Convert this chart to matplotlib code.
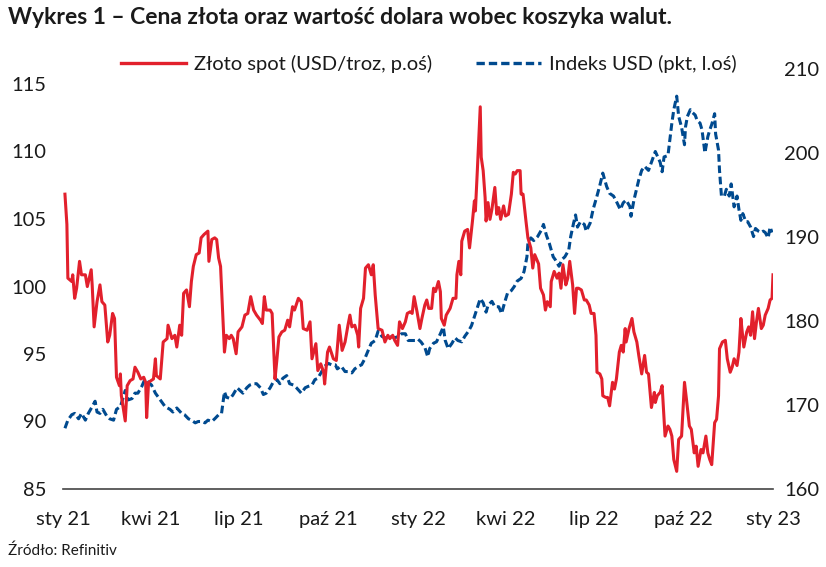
import numpy as np
import pandas as pd
import matplotlib
matplotlib.use("Agg")
import matplotlib.pyplot as plt
from matplotlib.lines import Line2D

plt.rcParams['font.family'] = ['Lato', 'DejaVu Sans']

# ---- data ----
start_date = "2021-01-01"
# Gold spot (USD/troz /10), right axis; x = days since start_date
gold_days = [2, 4, 5, 9, 10, 12, 14, 17, 19, 23, 25, 29, 30, 32, 35, 38, 40, 43, 46, 48, 51, 53, 55, 58, 59, 60,
             64, 66, 69, 72, 74, 77, 80, 83, 85, 86, 88, 93, 95, 96, 100, 103, 107, 108, 112, 115, 117, 120, 122,
             124, 127, 130, 132, 134, 137, 140, 142, 145, 149, 150, 153, 156, 158, 160, 162, 166, 168, 171, 173,
             175, 178, 180, 184, 187, 190, 193, 196, 199, 203, 205, 207, 209, 213, 215, 218, 220, 222, 225, 228,
             231, 233, 236, 238, 242, 245, 247, 251, 254, 256, 260, 262, 265, 268, 269, 272, 274, 278, 281, 284,
             287, 290, 293, 295, 297, 300, 303, 304, 306, 309, 311, 314, 317, 319, 321, 324, 328, 331, 334, 336,
             339, 341, 344, 346, 349, 352, 354, 357, 359, 361, 364, 367, 369, 372, 374, 376, 379, 381, 383, 386,
             388, 389, 392, 394, 398, 401, 404, 405, 407, 409, 410, 413, 416, 418, 421, 423, 424, 426, 429, 430,
             432, 434, 435, 437, 439, 441, 444, 446, 448, 450, 453, 455, 458, 461, 463, 465, 467, 470, 471, 473,
             476, 478, 481, 483, 485, 489, 491, 494, 496, 498, 501, 502, 505, 508, 510, 512, 514, 517, 519, 521,
             524, 526, 528, 530, 533, 536, 538, 541, 543, 546, 548, 549, 552, 554, 555, 558, 560, 562, 565, 567,
             569, 572, 574, 576, 578, 579, 582, 585, 587, 590, 592, 595, 598, 600, 602, 605, 608, 609, 611, 614,
             616, 619, 622, 624, 626, 628, 631, 633, 636, 639, 641, 644, 646, 649, 651, 653, 656, 658, 661, 663,
             665, 667, 670, 672, 674, 675, 678, 681, 683, 686, 688, 690, 693, 695, 697, 698, 700, 703, 705, 707,
             709, 711, 713, 715, 718, 720, 722, 725, 727, 729, 730]
gold_vals = [195.1, 191.5, 185.1, 184.7, 185.5, 182.7, 183.9, 187.1, 185.5, 185.5, 184.1, 186.1, 184.3, 179.3,
             182.3, 184.3, 182.3, 181.9, 177.5, 178.3, 180.9, 180.3, 173.3, 172.3, 173.7, 171.1,
             168.1, 172.3, 172.9, 173.1, 174.5, 173.9, 173.1, 173.3, 172.7, 168.5, 172.7, 173.1, 175.5, 173.5,
             173.1, 177.5, 177.9, 179.5, 177.9, 178.3, 176.9, 179.5, 178.3,
             183.3, 183.7, 181.7, 184.7, 186.5, 187.9, 188.1, 189.9, 190.3, 190.7, 187.1, 189.7, 189.9, 189.7,
             187.5, 186.5, 176.3, 178.3, 177.9, 178.3,
             177.9, 176.1, 178.7, 179.3, 180.7, 180.9, 182.9, 181.3, 180.7, 180.1, 179.7, 182.9, 181.3, 181.3,
             180.9, 173.1, 175.5, 178.1, 178.7, 178.9,
             180.1, 179.3, 181.7, 181.3, 182.7, 182.3, 179.1, 178.9, 179.9, 175.5, 177.3, 174.1, 174.9, 173.9,
             172.5, 176.3, 176.9, 175.5, 175.3, 179.5,
             176.5, 177.5, 179.5, 180.7, 179.3, 179.5, 178.3, 176.9, 181.5, 182.7, 186.3, 186.7, 185.5, 186.7,
             183.1, 179.1, 178.9, 177.5, 178.3, 177.9,
             178.3, 177.7, 177.1, 179.9, 179.1, 179.9, 180.9, 181.1, 180.9, 182.9, 181.1, 179.1, 180.3, 181.9,
             182.5, 181.5, 181.5, 183.9, 183.5, 184.7,
             183.5, 180.3, 179.5, 180.7, 181.5, 182.7, 182.7, 185.5, 187.1, 185.5, 189.5, 190.7, 190.9, 188.7,
             191.9, 194.3, 193.1, 197.9, 205.5, 199.5,
             197.9, 194.7, 191.9, 194.1, 192.1, 193.3, 195.9, 192.7, 193.5, 192.1, 193.7, 192.5, 192.7, 195.1,
             197.7, 197.5, 197.9, 197.9, 195.1, 195.1,
             191.9, 189.9, 188.7, 186.3, 187.9, 186.8, 183.9, 183.1, 181.3, 182.3, 181.7, 184.7, 185.9, 185.1,
             185.7, 183.9, 186.7, 184.3, 185.1, 187.1,
             184.3, 180.9, 183.9, 183.9, 183.7, 182.5, 182.5, 181.9, 180.9, 180.9, 178.3, 173.9, 173.7, 173.1,
             171.1, 170.9, 170.9, 169.9, 172.7, 171.9,
             173.1, 176.3, 177.1, 176.3, 179.1, 177.5, 179.1, 180.3, 178.7, 177.5, 175.9, 173.7, 175.9, 173.9,
             173.7, 169.7, 171.5, 170.3, 171.1, 171.5,
             172.3, 166.3, 167.5, 167.1, 166.3, 163.5, 162.1, 165.9, 166.3, 172.7, 170.7, 167.5, 167.1, 164.3,
             165.1, 162.7, 164.7, 164.3, 166.3, 164.3,
             163.5, 162.9, 167.9, 168.3, 171.1, 176.7, 177.5, 177.7, 175.5, 173.9, 174.5, 175.5, 174.7, 176.3,
             180.3, 179.1, 176.9, 178.7, 179.3, 178.3,
             181.1, 177.9, 179.9, 181.5, 179.1, 179.5, 180.7, 181.5, 182.5, 182.7, 185.5]

# USD index (pkt), left axis
usd_days = [2, 5, 9, 12, 16, 19, 23, 26, 30, 33, 35, 38, 41, 45, 48, 52, 55, 59, 62, 64, 67, 71, 74, 77, 81, 84,
            88, 91, 95, 100, 105, 110, 113, 117, 122, 125, 129, 132, 136, 139, 143, 146, 149, 153, 156, 160, 163,
            166, 168, 172, 175, 179, 182, 185, 189, 192, 196, 199, 203, 206, 209, 213, 216, 220, 223, 226, 230,
            233, 237, 240, 245, 249, 252, 256, 259, 262, 266, 269, 273, 276, 280, 282, 286, 290, 293, 297, 300,
            304, 307, 310, 314, 317, 321, 324, 328, 331, 334, 338, 341, 345, 348, 352, 355, 358, 362, 365, 368,
            372, 375, 377, 381, 384, 388, 391, 393, 396, 400, 403, 406, 410, 413, 417, 420, 424, 429, 432, 435,
            437, 441, 444, 448, 451, 454, 457, 461, 464, 467, 471, 474, 477, 478, 481, 484, 488, 492, 494, 497,
            500, 502, 504, 506, 510, 513, 516, 520, 522, 525, 527, 529, 532, 536, 538, 542, 545, 549, 552, 555,
            559, 562, 566, 569, 573, 576, 579, 583, 584, 587, 590, 592, 595, 598, 602, 605, 609, 614, 616, 618,
            622, 624, 626, 628, 631, 633, 636, 639, 640, 642, 645, 647, 650, 652, 655, 657, 660, 663, 665, 667,
            670, 671, 674, 675, 677, 680, 682, 685, 687, 690, 693, 695, 697, 699, 702, 704, 707, 710, 712, 715,
            718, 720, 722, 725, 727, 729]
usd_vals = [89.5, 90.1, 90.5, 90.6, 90.2, 90.6, 90.1, 90.6, 91.1, 91.5, 90.7, 90.6, 90.9, 90.4, 90.2, 90.1, 90.9,
            91.1, 91.8, 92.3, 91.6, 91.7, 92.1, 92.1, 92.6, 93.1,
            92.9, 92.7, 92.1, 91.6, 91.1, 90.9, 90.7, 91.0, 90.6, 90.5, 90.2, 90.1, 89.9, 90.0, 90.0, 89.9, 90.1,
            90.0, 90.2, 90.5, 90.6,
            92.2, 91.8, 91.7, 92.0, 92.5, 92.3, 92.1, 92.5, 92.7, 92.8, 92.8, 92.5, 92.0, 92.1, 92.5, 92.9, 93.1,
            92.8, 93.2, 93.4,
            92.8, 92.7, 92.5, 92.1, 92.5, 92.6, 92.7, 93.1, 93.2, 93.7, 94.1, 94.3, 94.2, 94.2, 93.9, 94.1, 93.7,
            93.7, 93.6, 93.9,
            94.1, 94.2, 94.6, 95.3, 95.8, 96.0, 96.7, 96.3, 96.2, 96.2, 96.3, 96.2, 96.3, 96.5, 96.5, 96.0, 96.0,
            96.0, 96.1, 95.9,
            95.5, 94.8, 95.4, 95.8, 95.9, 96.5, 97.0, 96.0, 95.4, 95.8, 96.2, 96.0, 95.9, 96.3, 96.7, 97.1, 98.0,
            99.1, 98.8, 98.1,
            98.6, 98.9, 98.5, 98.5, 98.0, 98.8, 99.5, 99.7, 100.0, 100.4, 100.6, 101.1, 102.2, 103.2, 103.6, 103.4,
            103.7, 104.2, 104.6, 103.8,
            103.2, 102.7, 102.2, 102.0, 101.5, 102.0, 102.2, 102.7, 103.7, 104.7, 105.3, 104.4, 104.8, 104.6, 104.1,
            104.7, 105.7, 106.7, 107.5, 108.4,
            107.4, 106.9, 106.7, 106.3, 105.7, 106.2, 106.4, 105.9, 105.2, 106.4, 107.3, 107.9, 108.6, 108.9, 108.6,
            109.2, 110.0, 109.2, 108.5, 109.6,
            109.7, 110.9, 112.1, 113.1, 114.1, 112.6, 111.8, 110.5, 111.8, 112.6, 113.1, 112.9, 112.7, 112.3, 112.1,
            111.6, 109.9, 111.1, 111.6, 112.0,
            112.8, 111.3, 110.1, 108.6, 106.7, 106.7, 107.2, 106.7, 107.6, 105.9, 106.7, 105.7, 104.9, 105.4, 104.8,
            104.8, 104.4, 103.7, 104.3, 104.1,
            104.0, 104.1, 104.0, 103.6, 104.4, 104.0]

x_labels = ["sty 21", "kwi 21", "lip 21", "paź 21", "sty 22", "kwi 22", "lip 22", "paź 22", "sty 23"]
left_ticks = [85, 90, 95, 100, 105, 110, 115]
right_ticks = [160, 170, 180, 190, 200, 210]

title = "Wykres 1 – Cena złota oraz wartość dolara wobec koszyka walut."
gold_label = "Złoto spot (USD/troz, p.oś)"
usd_label = "Indeks USD (pkt, l.oś)"
source = "Źródło: Refinitiv"

RED = "#E2202C"
BLUE = "#004A8F"
TXT = "#1a1a1a"

# ---- plot ----
W, H = 826, 567
fig = plt.figure(figsize=(W / 100, H / 100), dpi=100)
ax = fig.add_axes([63 / W, (H - 489) / H, 710 / W, 420 / H])
ax2 = ax.twinx()

t0 = pd.Timestamp(start_date)
gold_dates = t0 + pd.to_timedelta(gold_days, unit="D")
usd_dates = t0 + pd.to_timedelta(usd_days, unit="D")

ax.plot(usd_dates, usd_vals, color=BLUE, lw=2.2, linestyle=(0, (2.5, 1.2)), zorder=2)
ax2.plot(gold_dates, gold_vals, color=RED, lw=2.2, zorder=3)

ax.set_xlim(t0, t0 + pd.Timedelta(days=730))
ax.set_ylim(85, 85 + 420 / 13.5)
ax2.set_ylim(160, 210)
ax.set_yticks(left_ticks)
ax2.set_yticks(right_ticks)

ticks = pd.date_range(t0, periods=len(x_labels), freq="QS")
ax.set_xticks(ticks)
ax.set_xticklabels(x_labels)

for a in (ax, ax2):
    for s in a.spines.values():
        s.set_visible(False)
    a.tick_params(length=0, labelsize=14.5, colors=TXT)
ax.spines["bottom"].set_visible(True)
ax.spines["bottom"].set_color("#444444")
ax.spines["bottom"].set_linewidth(1.2)
ax.tick_params(axis="y", pad=12)
ax.tick_params(axis="x", pad=16)
ax2.tick_params(axis="y", pad=8)

fig.text(8 / W, 1 - 17 / H, title, fontsize=16.5, fontweight="bold", color=TXT, va="center", ha="left")
fig.text(8 / W, 1 - 551 / H, source, fontsize=11, color=TXT, va="center", ha="left")

handles = [Line2D([], [], color=RED, lw=2.4),
           Line2D([], [], color=BLUE, lw=2.4, linestyle=(0, (2.5, 1.2)))]
fig.legend(handles, [gold_label, usd_label], loc="center", bbox_to_anchor=(429 / W, 1 - 64 / H),
           ncol=2, frameon=False, fontsize=14.5, handlelength=3.2, handletextpad=0.4, columnspacing=2.2,
           labelcolor=TXT)

fig.savefig("out.png", dpi=100)
